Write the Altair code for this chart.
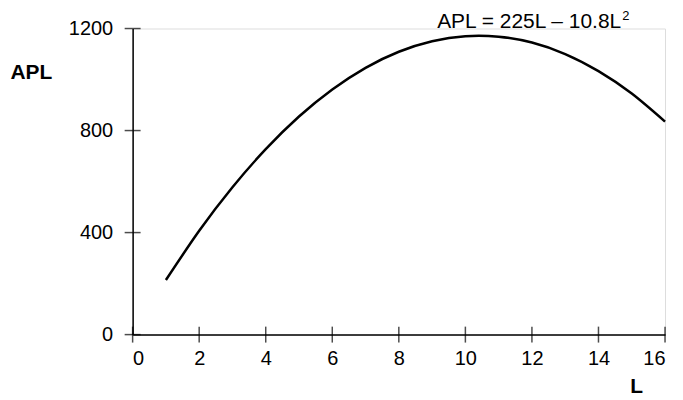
import altair as alt
import pandas as pd

# Values
L_vals = [1, 2, 3, 4, 5, 6, 7, 8, 9, 10, 11, 12, 13, 14, 15, 16]
APL_vals = [214, 407, 578, 727, 855, 961, 1046, 1109, 1150, 1170, 1168, 1145, 1100, 1033, 945, 835]

x_ticks = [0, 2, 4, 6, 8, 10, 12, 14, 16]
y_ticks = [0, 400, 800, 1200]

annotation = "APL = 225L – 10.8L"
annotation_sup = "2"

FONT = "Liberation Sans"
W, H = 534, 307

df = pd.DataFrame({"L": L_vals, "APL": APL_vals})
xt = pd.DataFrame({"L": x_ticks})
yt = pd.DataFrame({"APL": y_ticks})

xscale = alt.Scale(domain=[0, 16], nice=False, zero=False)
yscale = alt.Scale(domain=[0, 1200], nice=False)

line = alt.Chart(df).mark_line(
    color="black", strokeWidth=2.5, interpolate="natural"
).encode(
    x=alt.X("L:Q", scale=xscale,
            axis=alt.Axis(values=x_ticks, ticks=False, grid=False, domainColor="black",
                          domainWidth=1.5, labelFont=FONT, labelFontSize=20,
                          labelColor="black", labelPadding=14, format="d",
                          title="L", titleFont=FONT, titleFontSize=21,
                          titleFontWeight="bold", titleColor="black",
                          titleAnchor="start", titleAlign="center",
                          titleX=505, titleY=58, titleBaseline="alphabetic")),
    y=alt.Y("APL:Q", scale=yscale,
            axis=alt.Axis(values=y_ticks, ticks=False, grid=False, domainColor="black",
                          domainWidth=1.5, labelFont=FONT, labelFontSize=20,
                          labelColor="black", labelPadding=20, format="d",
                          title="APL", titleFont=FONT, titleFontSize=21,
                          titleFontWeight="bold", titleColor="black",
                          titleAngle=0, titleAlign="left", titleBaseline="middle",
                          titleX=-123, titleY=44, titleAnchor="start")),
)

xtick_marks = alt.Chart(xt).mark_tick(
    color="black", size=16, thickness=1.5, orient="vertical"
).encode(x=alt.X("L:Q", scale=xscale), y=alt.value(H))

ytick_marks = alt.Chart(yt).mark_tick(
    color="black", size=16, thickness=1.5, orient="horizontal"
).encode(y=alt.Y("APL:Q", scale=yscale), x=alt.value(0))

label = alt.Chart(pd.DataFrame({"t": [annotation]})).mark_text(
    font=FONT, fontSize=21, color="black", align="right", baseline="alphabetic"
).encode(text="t:N", x=alt.value(490), y=alt.value(-1))

label_sup = alt.Chart(pd.DataFrame({"t": [annotation_sup]})).mark_text(
    font=FONT, fontSize=13, color="black", align="left", baseline="alphabetic"
).encode(text="t:N", x=alt.value(491), y=alt.value(-9))

chart = alt.layer(line, xtick_marks, ytick_marks, label, label_sup).properties(
    width=W, height=H,
    autosize=alt.AutoSizeParams(type="none"),
    padding={"left": 125, "top": 20, "right": 10, "bottom": 64},
).configure_view(stroke=None).configure(background="white")

chart.save("out.html", embed_options={"renderer": "svg", "actions": False})
